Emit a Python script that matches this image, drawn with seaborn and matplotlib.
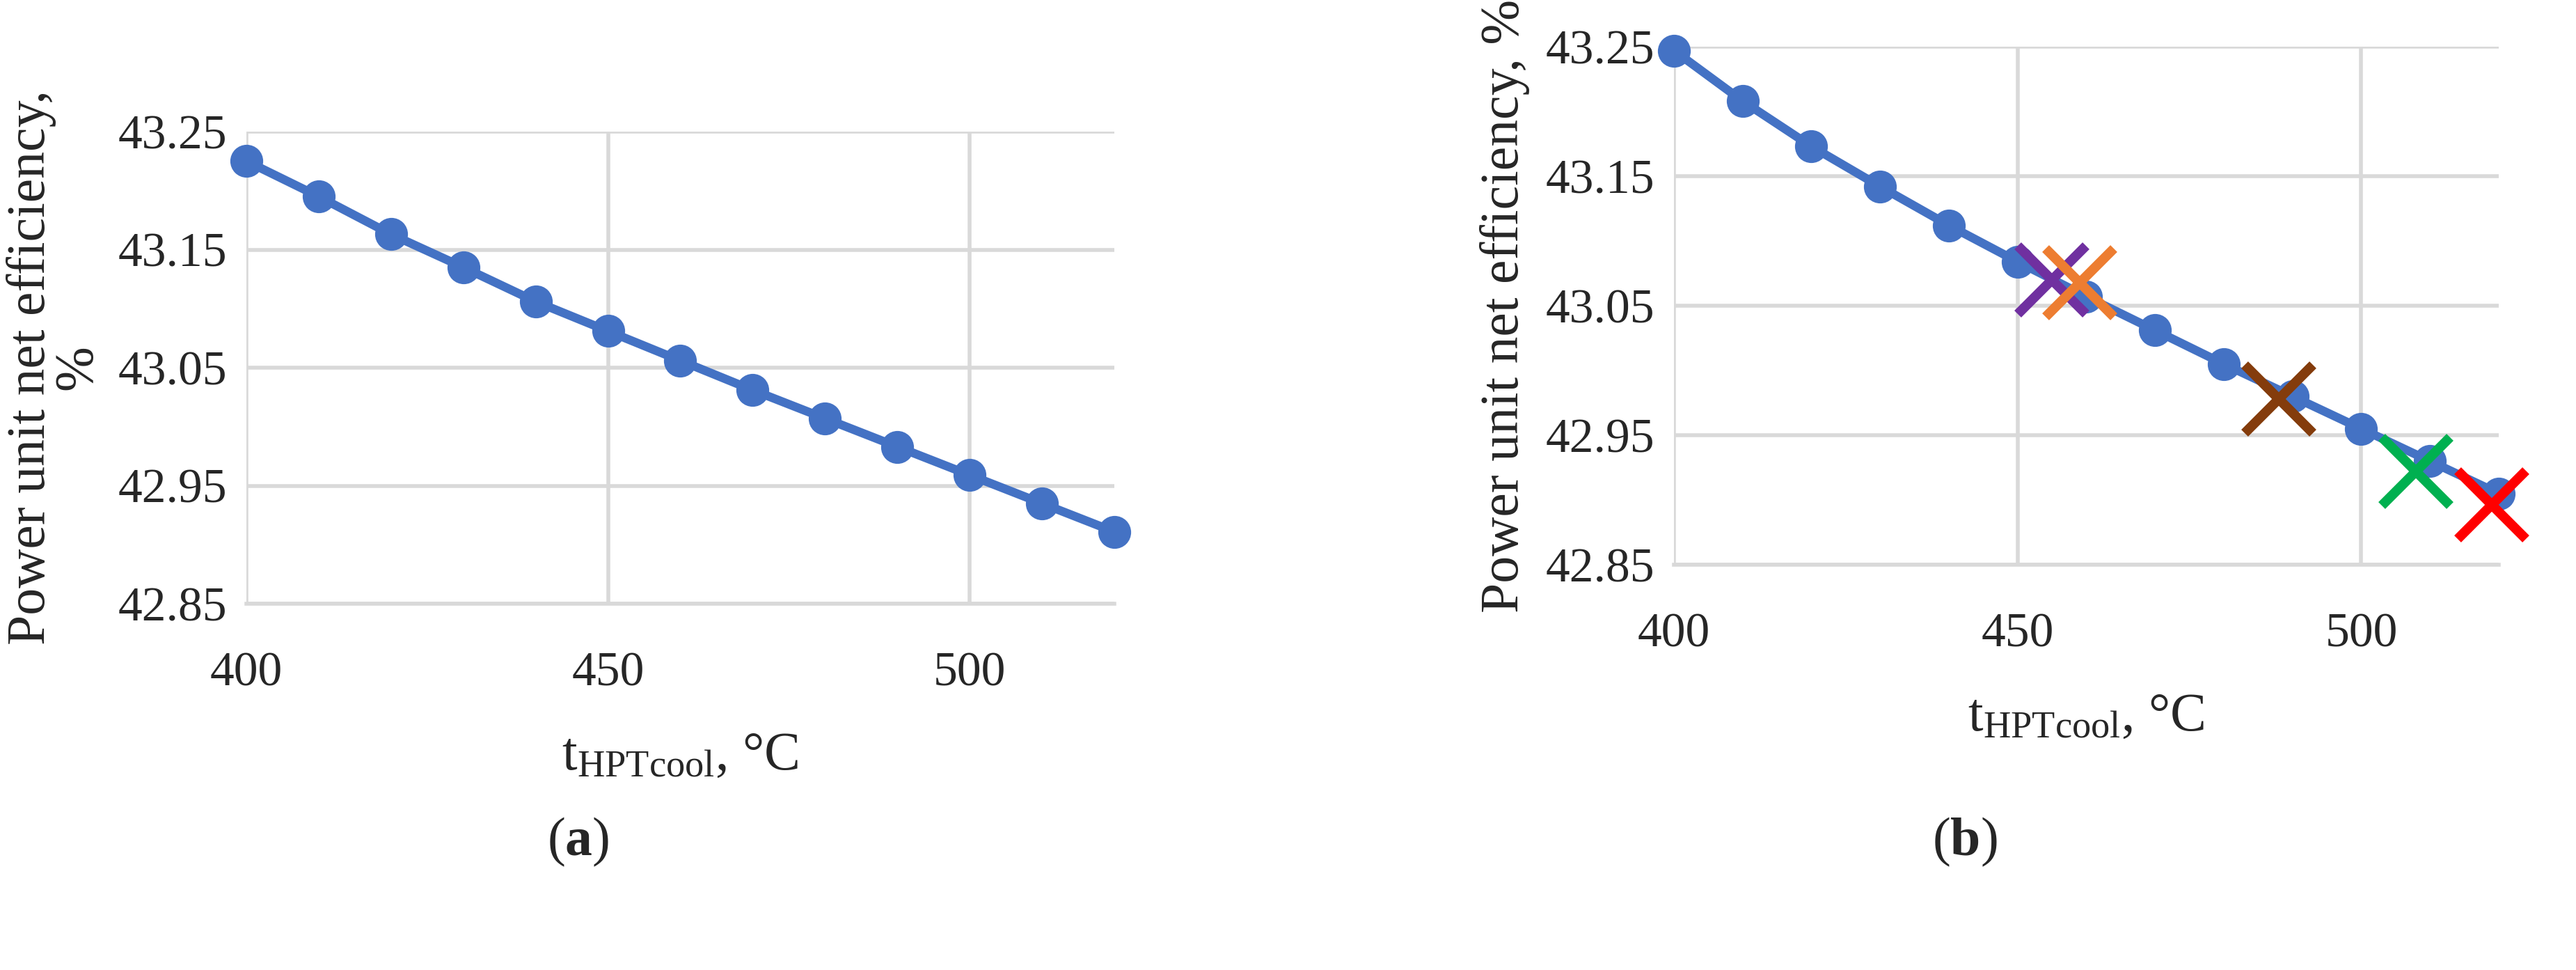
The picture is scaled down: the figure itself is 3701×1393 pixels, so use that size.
import matplotlib.pyplot as plt
import numpy as np
import pandas as pd
import seaborn as sns

temps = [400, 410, 420, 430, 440, 450, 460, 470, 480, 490, 500, 510, 520]
eff_a = [43.225, 43.195, 43.163, 43.135, 43.106, 43.081, 43.056, 43.031, 43.007, 42.983, 42.959, 42.935, 42.911]
eff_b = [43.247, 43.208, 43.173, 43.142, 43.112, 43.084, 43.057, 43.031, 43.005, 42.980, 42.955, 42.930, 42.905]

cross_t = [455, 459, 488, 508, 519]
cross_eff = [43.070, 43.068, 42.978, 42.922, 42.896]
cross_col = ['#7030a0', '#ed7d31', '#843c0c', '#00b050', '#ff0000']

sns.set_style("white")
plt.rcParams['font.family'] = ['Liberation Serif', 'DejaVu Serif']
plt.rcParams['mathtext.fontset'] = 'custom'
plt.rcParams['mathtext.rm'] = 'Liberation Serif'
plt.rcParams['mathtext.bf'] = 'Liberation Serif:bold'

fig = plt.figure(figsize=(37.01, 13.93), dpi=100)
ax_a = fig.add_axes([354/3701, 1 - 867/1393, (1601-354)/3701, (867-189)/1393])
ax_b = fig.add_axes([2405/3701, 1 - 811/1393, (3590-2405)/3701, (811-67)/1393])

blue = '#4472c4'
labels = ['Power unit net efficiency,\n%', 'Power unit net efficiency, %']
for ax, eff, lab in [(ax_a, eff_a, labels[0]), (ax_b, eff_b, labels[1])]:
    df = pd.DataFrame({'t': temps, 'eff': eff})
    sns.lineplot(data=df, x='t', y='eff', ax=ax, color=blue, lw=9,
                 marker='o', markersize=34, markeredgewidth=0, clip_on=False)
    ax.set_xlim(400, 520)
    ax.set_ylim(42.85, 43.25)
    ax.set_xticks([400, 450, 500])
    ax.set_yticks([42.85, 42.95, 43.05, 43.15, 43.25])
    ax.set_yticklabels(['42.85', '42.95', '43.05', '43.15', '43.25'])
    ax.grid(True, color='#d9d9d9', lw=4)
    ax.set_axisbelow(True)
    for s in ['top', 'right', 'left']:
        ax.spines[s].set_visible(False)
    ax.spines['bottom'].set_color('#d9d9d9')
    ax.spines['bottom'].set_linewidth(4)
    ax.tick_params(labelsize=50, length=0)
    ax.tick_params(axis='x', pad=50)
    ax.tick_params(axis='y', pad=20)
    ax.set_xlabel(r'$\mathregular{t_{HPTcool}}$, °C', fontsize=56, labelpad=36)
    ax.set_ylabel(lab, fontsize=56, labelpad=16, linespacing=0.9)

for t, e, c in zip(cross_t, cross_eff, cross_col):
    ax_b.plot(t, e, marker='x', color=c, markersize=70, markeredgewidth=10, clip_on=False)

fig.text(831/3701, 1 - 1209/1393, r'($\mathbf{a}$)', fontsize=56, ha='center', va='center')
fig.text(2823/3701, 1 - 1209/1393, r'($\mathbf{b}$)', fontsize=56, ha='center', va='center')
fig.savefig('out.png', dpi=100)
